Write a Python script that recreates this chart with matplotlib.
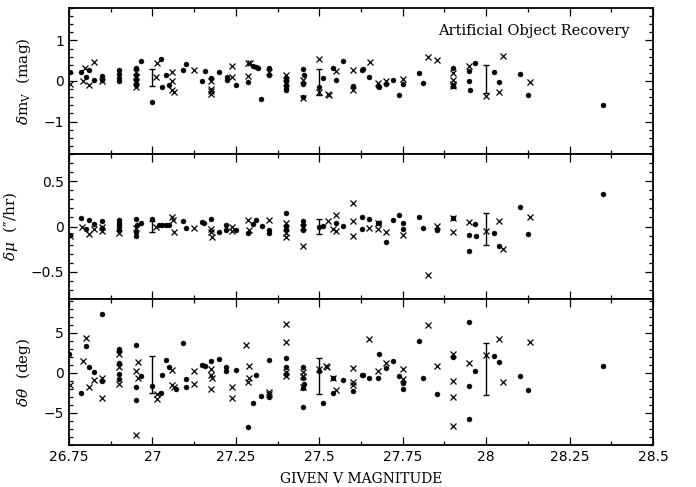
import matplotlib
matplotlib.use("Agg")
import matplotlib.pyplot as plt
from matplotlib.ticker import MultipleLocator, FixedLocator

plt.rcParams['mathtext.fontset'] = 'dejavuserif'

# ---------------- data ----------------
# Top panel: delta m_V (mag)
top_dot_x = [26.753, 26.786, 26.801, 26.811, 26.826, 26.85, 26.85, 26.90, 26.90, 26.90, 26.90,
             26.95, 26.95, 26.95, 26.95, 26.965, 27.0, 27.026, 27.03, 27.04, 27.05, 27.093, 27.10,
             27.15, 27.158, 27.175, 27.2, 27.223, 27.223, 27.25, 27.285, 27.30, 27.31, 27.315,
             27.325, 27.35, 27.35, 27.40, 27.40, 27.40, 27.40, 27.40, 27.45, 27.45, 27.45, 27.455,
             27.50, 27.512, 27.54, 27.55, 27.57, 27.627, 27.63, 27.60, 27.65, 27.675, 27.68, 27.70,
             27.72, 27.739, 27.752, 27.80, 27.81, 27.90, 27.90, 27.967, 27.95, 27.95, 27.953,
             28.025, 28.04, 28.10, 28.125, 28.35]
top_dot_y = [0.21, 0.22, 0.11, 0.26, 0.03, 0.13, 0.03, 0.26, 0.18, 0.07, 0.0,
             0.33, 0.16, 0.03, -0.1, 0.49, -0.53, 0.55, -0.14, 0.16, -0.1, 0.27, 0.43,
             0.0, 0.25, 0.08, 0.21, 0.11, 0.03, -0.1, -0.03, 0.38, 0.34, 0.32,
             -0.45, 0.32, 0.14, 0.08, 0.0, -0.1, -0.18, -0.23, 0.29, -0.08, -0.40, 0.14,
             -0.14, 0.08, 0.31, 0.03, 0.49, 0.26, 0.29, -0.13, 0.1, -0.13, -0.15, -0.07,
             0.02, -0.35, -0.08, 0.2, -0.05, 0.31, -0.12, 0.45, 0.24, 0.0, -0.22,
             0.22, -0.03, 0.18, -0.35, -0.59]
top_x_x = [26.753, 26.798, 26.793, 26.811, 26.826, 26.85, 26.95, 26.95, 26.95, 26.95, 27.01,
           27.013, 27.06, 27.06, 27.06, 27.065, 27.125, 27.175, 27.175, 27.177, 27.175, 27.237,
           27.237, 27.287, 27.292, 27.287, 27.35, 27.40, 27.40, 27.45, 27.45, 27.50, 27.50,
           27.527, 27.53, 27.55, 27.60, 27.60, 27.652, 27.675, 27.70, 27.752, 27.827, 27.852,
           27.90, 27.90, 27.90, 27.90, 27.95, 28.0, 28.04, 28.05, 28.13]
top_x_y = [-0.08, 0.31, 0.0, -0.1, 0.47, 0.0, 0.22, 0.11, 0.0, -0.16, 0.11,
           0.45, 0.0, 0.21, -0.23, -0.28, 0.27, 0.0, -0.19, -0.25, -0.31, 0.11,
           0.36, 0.44, 0.44, 0.12, 0.23, 0.16, -0.05, 0.02, -0.41, 0.55, -0.27,
           -0.31, -0.35, 0.25, 0.27, -0.22, 0.46, -0.04, 0.01, 0.04, 0.59, 0.53,
           0.20, 0.02, -0.07, -0.13, 0.37, -0.37, -0.26, 0.62, -0.02]
top_err_lo = [-0.12, -0.35, -0.30]
top_err_hi = [0.30, 0.29, 0.39]

# Middle panel: delta mu (arcsec/hr)
mid_dot_x = [26.753, 26.786, 26.80, 26.81, 26.826, 26.85, 26.85, 26.90, 26.90, 26.90, 26.90, 26.90,
             26.95, 26.95, 26.95, 26.955, 26.966, 27.0, 27.02, 27.03, 27.04, 27.05, 27.093, 27.10,
             27.15, 27.156, 27.175, 27.20, 27.22, 27.22, 27.25, 27.287, 27.30, 27.31, 27.327,
             27.35, 27.35, 27.40, 27.40, 27.40, 27.45, 27.45, 27.45, 27.50, 27.51, 27.55, 27.57,
             27.627, 27.627, 27.65, 27.675, 27.68, 27.70, 27.72, 27.739, 27.752, 27.752, 27.80,
             27.81, 27.852, 27.90, 27.967, 27.95, 27.97, 27.95, 28.025, 28.04, 28.10, 28.125, 28.35]
mid_dot_y = [-0.09, 0.09, -0.03, 0.07, 0.03, 0.06, -0.02, 0.07, 0.04, 0.02, -0.01, -0.04,
             0.08, -0.06, -0.1, 0.02, 0.04, 0.08, 0.02, 0.02, 0.02, 0.02, 0.06, -0.02,
             0.05, 0.04, 0.08, -0.06, 0.02, -0.04, -0.04, -0.07, 0.03, 0.07, 0.01,
             -0.04, -0.07, 0.15, 0.01, -0.03, 0.06, 0.02, -0.04, 0.0, 0.01, 0.04, 0.01,
             0.10, -0.03, 0.08, 0.04, 0.04, -0.17, 0.07, 0.13, 0.04, -0.03, 0.10,
             -0.02, -0.04, 0.09, 0.03, -0.09, -0.10, -0.27, -0.07, -0.21, 0.21, -0.08, 0.36]
mid_x_x = [26.753, 26.79, 26.81, 26.826, 26.85, 26.85, 26.90, 26.95, 27.01, 27.06, 27.063, 27.065,
           27.125, 27.175, 27.177, 27.18, 27.237, 27.237, 27.287, 27.29, 27.35, 27.40, 27.40,
           27.40, 27.45, 27.45, 27.527, 27.54, 27.55, 27.55, 27.60, 27.60, 27.60, 27.65, 27.675,
           27.677, 27.70, 27.752, 27.827, 27.852, 27.90, 27.90, 27.95, 28.0, 28.04, 28.05, 28.13]
mid_x_y = [-0.11, -0.01, -0.08, -0.03, -0.05, 0.0, -0.07, -0.02, 0.0, 0.1, 0.07, -0.06,
           -0.02, -0.03, -0.06, -0.12, -0.01, -0.05, 0.07, -0.04, 0.07, 0.04, -0.07,
           -0.12, -0.01, -0.22, 0.06, -0.03, 0.13, -0.05, 0.26, 0.06, -0.11, -0.02, -0.03,
           0.04, -0.06, -0.09, -0.53, 0.01, 0.09, -0.06, 0.05, -0.05, 0.06, -0.25, 0.10]
mid_err_lo = [-0.06, -0.08, -0.20]
mid_err_hi = [0.06, 0.08, 0.15]

# Bottom panel: delta theta (deg)
bot_dot_x = [26.75, 26.786, 26.80, 26.81, 26.826, 26.85, 26.85, 26.90, 26.90, 26.90, 26.90, 26.90,
             26.95, 26.95, 26.95, 26.966, 27.0, 27.026, 27.03, 27.04, 27.05, 27.07, 27.093, 27.10,
             27.10, 27.15, 27.158, 27.175, 27.20, 27.22, 27.22, 27.25, 27.285, 27.30, 27.31,
             27.325, 27.35, 27.35, 27.40, 27.40, 27.40, 27.45, 27.45, 27.45, 27.45, 27.455,
             27.50, 27.512, 27.54, 27.54, 27.57, 27.60, 27.627, 27.632, 27.65, 27.68, 27.675,
             27.70, 27.72, 27.739, 27.752, 27.752, 27.80, 27.81, 27.852, 27.90, 27.95, 27.95,
             27.95, 27.967, 28.025, 28.04, 28.10, 28.125, 28.35]
bot_dot_y = [2.3, -2.5, 3.4, 0.7, 0.05, 7.3, -1.0, 3.0, 2.7, 1.2, -0.2, -0.8,
             3.5, -1.75, -3.4, -0.4, -1.7, -2.5, -0.3, 1.6, 0.7, -2.0, 3.75, -0.8,
             -1.8, 1.0, 0.9, 1.5, 1.7, 0.75, 0.2, 0.35, -6.7, -3.75, -0.3,
             -2.9, 1.6, -3.0, 1.9, 0.75, -0.2, 0.7, -0.7, -1.9, -4.3, -1.45,
             0.2, -3.8, -0.6, -2.5, -0.9, -2.3, -0.3, -0.3, -0.7, 2.4, -0.7,
             0.55, 1.5, -0.4, -1.25, -2.05, 4.0, -0.7, -2.7, 2.0, 6.3, -1.6,
             -5.8, 0.2, 2.1, 1.4, -0.4, -2.2, 0.9]
bot_x_x = [26.753, 26.80, 26.793, 26.81, 26.826, 26.85, 26.85, 26.90, 26.90, 26.90, 26.95, 26.95,
           26.958, 26.958, 27.013, 27.013, 27.06, 27.06, 27.065, 27.125, 27.125, 27.175, 27.175,
           27.178, 27.175, 27.237, 27.237, 27.28, 27.29, 27.285, 27.29, 27.35, 27.35, 27.40,
           27.40, 27.40, 27.40, 27.45, 27.45, 27.45, 27.50, 27.52, 27.523, 27.54, 27.55, 27.60,
           27.60, 27.60, 27.65, 27.675, 27.70, 27.752, 27.752, 27.827, 27.852, 27.90, 27.90,
           27.90, 27.90, 27.95, 28.0, 28.04, 28.05, 28.13]
bot_x_y = [-1.5, 4.4, 1.5, -1.8, -0.9, -0.6, -3.2, 2.4, 0.7, -1.4, 0.2, -7.8,
           1.4, -0.6, -3.3, -2.7, 0.3, -1.5, -1.8, 0.2, -1.4, 0.5, -0.3,
           -0.7, -2.0, -1.8, -3.2, 3.5, 0.8, -1.1, -0.6, -2.4, -2.7, 6.1,
           3.9, 0.1, -0.4, 0.1, -0.4, -1.8, 0.45, 0.85, 0.75, -0.6, -2.2, 0.55,
           -1.1, -1.5, 4.2, 0.25, 1.2, 0.45, -0.8, 5.9, 0.9, 2.4, -1.0,
           -3.0, -6.6, 1.25, 2.2, 4.2, -1.1, 3.8]
bot_err_lo = [-2.5, -2.7, -2.8]
bot_err_hi = [2.1, 1.8, 3.7]

err_x = [27.0, 27.5, 28.0]

x_ticks = [26.75, 27.0, 27.25, 27.5, 27.75, 28.0, 28.25, 28.5]
x_tick_labels = ['26.75', '27', '27.25', '27.5', '27.75', '28', '28.25', '28.5']

# ---------------- figure ----------------
fig = plt.figure(figsize=(6.96, 4.87), dpi=100)
left, right = 69 / 696, 653 / 696
edges_px = [8, 154, 299, 445]
axes = []
for i in range(3):
    top = 1 - edges_px[i] / 487
    bot = 1 - edges_px[i + 1] / 487
    axes.append(fig.add_axes([left, bot, right - left, top - bot]))

panels = [
    (top_dot_x, top_dot_y, top_x_x, top_x_y, top_err_lo, top_err_hi,
     (-1.8, 1.8), [-1, 0, 1], ['\u22121', '0', '1'], 0.2,
     r'$\delta\mathrm{m}_\mathrm{V}$' + '  (mag)'),
    (mid_dot_x, mid_dot_y, mid_x_x, mid_x_y, mid_err_lo, mid_err_hi,
     (-0.8, 0.8), [-0.5, 0, 0.5], ['\u22120.5', '0', '0.5'], 0.1,
     r'$\delta\mu$' + '  (\u2033/hr)'),
    (bot_dot_x, bot_dot_y, bot_x_x, bot_x_y, bot_err_lo, bot_err_hi,
     (-9, 9.2), [-5, 0, 5], ['\u22125', '0', '5'], 1.0,
     r'$\delta\theta$' + '  (deg)'),
]

for k, (ax, p) in enumerate(zip(axes, panels)):
    dx, dy, cx, cy, elo, ehi, ylim, yt, ytl, ymin, ylab = p
    ax.plot(dx, dy, 'o', ms=3.6, color='black', mec='black', mew=0.3, ls='none')
    ax.plot(cx, cy, 'x', ms=5, color='black', mew=0.9, ls='none')
    mids = [(a + b) / 2 for a, b in zip(elo, ehi)]
    half = [(b - a) / 2 for a, b in zip(elo, ehi)]
    ax.errorbar(err_x, mids, yerr=half, fmt='none', ecolor='black', elinewidth=1.0,
                capsize=2.5, capthick=1.0)
    ax.set_xlim(26.75, 28.5)
    ax.set_ylim(*ylim)
    ax.xaxis.set_major_locator(FixedLocator(x_ticks))
    ax.xaxis.set_minor_locator(MultipleLocator(0.125))
    ax.yaxis.set_major_locator(FixedLocator(yt))
    ax.yaxis.set_minor_locator(MultipleLocator(ymin))
    ax.set_yticklabels(ytl)
    ax.tick_params(which='both', direction='in', top=True, right=True, width=0.9)
    ax.tick_params(which='major', length=6, labelsize=10)
    ax.tick_params(which='minor', length=3)
    for s in ax.spines.values():
        s.set_linewidth(1.3)
    ax.set_ylabel(ylab, fontsize=11, family='DejaVu Serif', labelpad=8)
    if k < 2:
        ax.set_xticklabels([])
    else:
        ax.set_xticklabels(x_tick_labels)
        ax.set_xlabel('GIVEN V MAGNITUDE', fontsize=10, family='DejaVu Serif', labelpad=6)

fig.align_ylabels(axes)
axes[0].text(0.96, 0.84, 'Artificial Object Recovery', transform=axes[0].transAxes,
             ha='right', va='center', fontsize=10.5, family='DejaVu Serif')

fig.savefig('out.png', dpi=100)
